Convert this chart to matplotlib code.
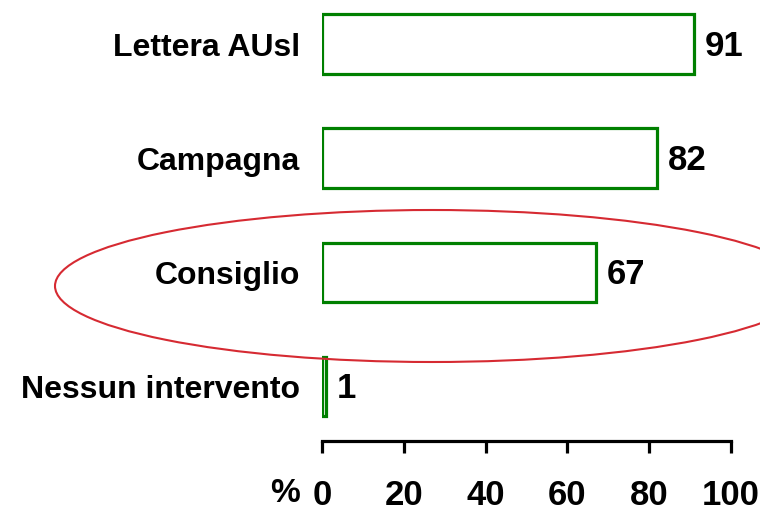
import matplotlib
matplotlib.use("Agg")
import matplotlib.pyplot as plt
from matplotlib.patches import Ellipse
from matplotlib import font_manager

categories = ["Nessun intervento", "Consiglio", "Campagna", "Lettera AUsl"]
values = [1, 67, 82, 91]
value_labels = ["1", "67", "82", "91"]
xticks = [0, 20, 40, 60, 80, 100]

avail = {f.name for f in font_manager.fontManager.ttflist}
fam = "Liberation Sans Narrow" if "Liberation Sans Narrow" in avail else "Liberation Sans"
plt.rcParams['font.family'] = [fam, 'DejaVu Sans']

fig = plt.figure(figsize=(7.6, 5.13), dpi=100)
ax = fig.add_axes([322/760, 1-441/513, (731-322)/760, 441/513])

y = list(range(len(categories)))
ax.barh(y, values, height=0.52, color="white", edgecolor="#008000", linewidth=2.3)
for yi, v, lab in zip(y, values, value_labels):
    ax.text(v + 2.5, yi - 0.02, lab, va="center", ha="left", fontsize=25, fontweight="bold")

ax.set_xlim(0, 100)
ax.set_ylim(-0.48, 3.386)
ax.set_yticks(y)
ax.set_yticklabels(categories, fontsize=23, fontweight="bold")
ax.tick_params(axis="y", length=0, pad=16)
ax.set_xticks(xticks)
ax.set_xticklabels([str(t) for t in xticks], fontsize=25, fontweight="bold")
ax.tick_params(axis="x", length=8.6, width=2.3, pad=19, direction="out")
for s in ["top", "right", "left"]:
    ax.spines[s].set_visible(False)
ax.spines["bottom"].set_linewidth(2.3)
ax.spines["bottom"].set_bounds(0, 100)

fig.text(300/760, 1-494/513, "%", ha="right", va="center", fontsize=24, fontweight="bold")

ell = Ellipse((432/760, 1-286/513), 754/760, 152/513, transform=fig.transFigure,
              fill=False, edgecolor="#d62a32", linewidth=1.5, clip_on=False)
fig.patches.append(ell)

fig.savefig("out.png", dpi=100)
